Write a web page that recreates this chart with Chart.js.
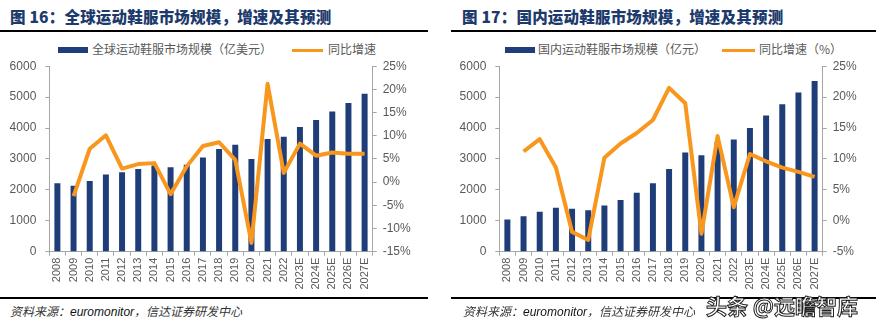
<!DOCTYPE html>
<html>
<head>
<meta charset="utf-8">
<script src="https://cdn.jsdelivr.net/npm/chart.js@4/dist/chart.umd.min.js"></script>
<style>
  body { margin: 0; width: 876px; height: 324px; background: #fff; position: relative; overflow: hidden;
         font-family: "Liberation Sans", "Noto Sans CJK SC", sans-serif; }
  .title { position: absolute; top: 5px; font-size: 15.5px; font-weight: 900; color: #1d3a6c;
           font-family: "Noto Sans CJK SC", sans-serif; white-space: nowrap; letter-spacing: 0.2px; }
  .rule { position: absolute; height: 2px; background: #000; }
  .src { position: absolute; top: 302px; font-size: 12px; font-style: italic; color: #333;
         font-family: "Noto Sans CJK SC", sans-serif; white-space: nowrap; }
  .src b { font-family: "Liberation Sans", sans-serif; font-weight: normal; color: #111; }
  .lg { position: absolute; top: 40px; font-size: 12px; color: #595959; white-space: nowrap;
        font-family: "Noto Sans CJK SC", sans-serif; }
  .box { position: absolute; height: 6px; background: #1f3d78; }
  .ln { position: absolute; height: 3px; background: #f8961d; }
  canvas { position: absolute; }
  .wm { position: absolute; left: 706px; top: 290px; font-size: 21px; color: #fff; white-space: nowrap;
        font-family: "Noto Sans CJK SC", sans-serif; -webkit-text-stroke: 1px #222; font-weight: bold; }
</style>
</head>
<body>
<div class="title" style="left:10px">图 16：全球运动鞋服市场规模，增速及其预测</div>
<div class="title" style="left:462px">图 17：国内运动鞋服市场规模，增速及其预测</div>
<div class="rule" style="left:0;width:428px;top:30px"></div>
<div class="rule" style="left:451px;width:425px;top:30px"></div>

<div class="box" style="left:58px;width:30px;top:47px"></div>
<div class="lg" style="left:92px">全球运动鞋服市场规模（亿美元）</div>
<div class="ln" style="left:292px;width:31px;top:49px"></div>
<div class="lg" style="left:328px">同比增速</div>

<div class="box" style="left:505px;width:30px;top:47px"></div>
<div class="lg" style="left:538px">国内运动鞋服市场规模（亿元）</div>
<div class="ln" style="left:722px;width:33px;top:49px"></div>
<div class="lg" style="left:759px">同比增速（%）</div>

<canvas id="c1" style="left:0;top:50px"></canvas>
<canvas id="c2" style="left:450px;top:50px"></canvas>

<div class="rule" style="left:0;width:428px;top:297px"></div>
<div class="rule" style="left:451px;width:425px;top:297px"></div>
<div class="src" style="left:10px">资料来源：<b>euromonitor</b>，信达证券研发中心</div>
<div class="src" style="left:463px">资料来源：<b>euromonitor</b>，信达证券研发中心</div>
<div class="wm">头条 @远瞻智库</div>

<script>
const years = ["2008", "2009", "2010", "2011", "2012", "2013", "2014", "2015", "2016", "2017",
  "2018", "2019", "2020", "2021", "2022", "2023E", "2024E", "2025E", "2026E", "2027E"];

// 全球 (亿美元) and yoy %
const globalSize = [2210, 2130, 2285, 2495, 2570, 2675, 2790, 2730, 2815, 3050,
  3325, 3460, 2995, 3645, 3715, 4035, 4260, 4535, 4810, 5110];
const globalYoy = [null, -3.0, 7.2, 10.1, 2.9, 3.9, 4.1, -2.6, 3.4, 7.8,
  8.6, 4.8, -13.1, 21.2, 2.0, 8.3, 5.7, 6.4, 6.1, 6.1];

// 国内 (亿元) and yoy %
const chinaSize = [1045, 1145, 1295, 1425, 1390, 1340, 1495, 1670, 1910, 2210,
  2675, 3205, 3120, 3550, 3630, 4005, 4405, 4770, 5150, 5520];
const chinaYoy = [null, 11.2, 13.2, 8.6, -1.8, -3.1, 10.2, 12.5, 14.2, 16.3,
  21.5, 19.0, -2.1, 13.7, 2.2, 10.8, 9.6, 8.6, 7.9, 7.1];

const leftTicks = [0, 1000, 2000, 3000, 4000, 5000, 6000];

const gray = "#a6a6a6";
const txt = "#595959";
Chart.defaults.font.family = '"Liberation Sans", "Noto Sans CJK SC", sans-serif';
Chart.defaults.font.size = 11;
Chart.defaults.color = txt;

const makeChart = (id, w, sizes, yoy, yoyMin, leftW, rightW) => {
  const cv = document.getElementById(id);
  cv.width = w;
  cv.height = 248;
  cv.style.width = w + "px";
  cv.style.height = "248px";
  new Chart(cv.getContext("2d"), {
    data: {
      labels: years,
      datasets: [
        {
          type: "line", data: yoy, yAxisID: "y1", order: 0,
          borderColor: "#f8961d", borderWidth: 4, pointRadius: 0, tension: 0,
          borderJoinStyle: "round", spanGaps: false,
        },
        {
          type: "bar", data: sizes, yAxisID: "y", order: 1,
          backgroundColor: "#1f3d78", barPercentage: 0.37, categoryPercentage: 1,
        },
      ],
    },
    options: {
      responsive: false,
      animation: false,
      events: [],
      layout: { padding: { top: 13, left: 0, right: 0, bottom: 0 } },
      plugins: { legend: { display: false }, tooltip: { enabled: false } },
      scales: {
        x: {
          border: { color: gray },
          grid: { drawOnChartArea: false, color: gray, tickLength: 4 },
          ticks: { autoSkip: false, minRotation: 90, maxRotation: 90, padding: 2, color: txt },
          afterFit: (s) => { s.height = 46.3; },
        },
        y: {
          position: "left", min: 0, max: 6000,
          border: { color: gray },
          grid: { drawOnChartArea: false, color: gray, tickLength: 4 },
          afterBuildTicks: (s) => { s.ticks = leftTicks.map((v) => ({ value: v })); },
          ticks: { padding: 9, color: txt, font: { size: 12 }, callback: (v) => String(v) },
          afterFit: (s) => { s.width = leftW; },
        },
        y1: {
          position: "right", min: yoyMin, max: 25,
          border: { color: gray },
          grid: { drawOnChartArea: false, color: gray, tickLength: 4 },
          ticks: { stepSize: 5, padding: 6, color: txt, font: { size: 12 }, callback: (v) => v + "%" },
          afterFit: (s) => { s.width = rightW; },
        },
      },
    },
  });
};

makeChart("c1", 430, globalSize, globalYoy, -15, 49.3, 57.3);
makeChart("c2", 426, chinaSize, chinaYoy, -5, 49.3, 53.3);
</script>
</body>
</html>
